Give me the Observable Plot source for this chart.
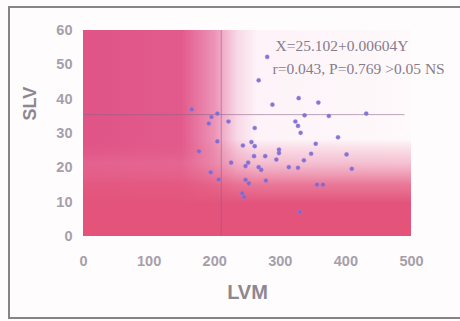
<!DOCTYPE html>
<html><head><meta charset="utf-8">
<script src="https://cdn.jsdelivr.net/npm/d3@7"></script>
<script src="https://cdn.jsdelivr.net/npm/@observablehq/plot@0.6"></script>
<style>
html,body{margin:0;padding:0;background:#fefcfc;}
#wrap{position:relative;width:460px;height:321px;overflow:hidden;}
#border{position:absolute;left:8px;top:6px;width:470px;height:313px;border:2px solid #858585;box-sizing:border-box;pointer-events:none;}
#chart{position:absolute;left:0;top:0;}
</style></head><body>
<div id="wrap"><div id="chart"></div><div id="border"></div></div>
<script>
// LVM (x) and SLV (y) values
const lvm = [280,267,288,165,204,195,191,221,261,328,358,337,374,431,323,327,331,388,354,347,336,327,313,401,409,356,365,330,204,176,243,256,261,298,298,277,260,294,225,251,247,267,271,194,206,247,252,278,242,245];
const slv = [52.3,45.5,38.4,37.0,35.8,34.8,32.9,33.5,31.6,40.3,39.0,35.3,35.1,35.8,33.5,32.2,30.2,28.9,27.0,24.1,22.2,20.0,20.2,23.9,19.7,15.1,15.1,7.1,27.7,24.8,26.5,27.5,26.3,25.3,24.3,23.4,23.4,22.4,21.5,21.5,20.5,20.2,19.4,18.7,16.6,16.5,15.5,16.3,12.6,11.5];
const xTicks = [0,100,200,300,400,500];
const yTicks = [0,10,20,30,40,50,60];
const xDomain = [0,500];
const yDomain = [0,60];
const meanLVM = [210];
const meanSLV = [35.5];
const hLineEnd = 490;
const eqLines = ["X=25.102+0.00604Y", "r=0.043, P=0.769 >0.05 NS"];
const xTitle = ["LVM"];
const yTitle = ["SLV"];

const pts = lvm.map((x,i)=>({x, y: slv[i]}));
const bg = [{x1:xDomain[0], x2:xDomain[1], y1:yDomain[0], y2:yDomain[1]}];

const plot = Plot.plot({
  width:460, height:321,
  marginLeft:83, marginRight:49, marginTop:30, marginBottom:85,
  style:{background:"transparent", fontFamily:"'Liberation Sans', Arial, sans-serif", fontSize:"14.5px", fontWeight:"bold", color:"#a69fab", overflow:"visible"},
  x:{domain:xDomain, ticks:xTicks, tickSize:0, tickPadding:19, label:null},
  y:{domain:yDomain, ticks:yTicks, tickSize:0, tickPadding:11, label:null},
  marks:[
    Plot.rect(bg,{x1:"x1",x2:"x2",y1:"y1",y2:"y2", fill:"url(#gH)"}),
    Plot.rect(bg,{x1:"x1",x2:"x2",y1:"y1",y2:"y2", fill:"url(#gV)"}),
    Plot.ruleY(meanSLV,{y:d=>d, x1:()=>xDomain[0], x2:()=>hLineEnd, stroke:"#8a5f8a", strokeOpacity:0.55, strokeWidth:1}),
    Plot.ruleX(meanLVM,{x:d=>d, y1:()=>yDomain[0], y2:()=>yDomain[1], stroke:"#8a5f8a", strokeOpacity:0.55, strokeWidth:1}),
    Plot.dot(pts,{x:"x", y:"y", r:2.1, fill:"#7a66d2", fillOpacity:0.9, stroke:"#9a88e0", strokeOpacity:0.35, strokeWidth:1}),
    Plot.text([eqLines[0]],{text:d=>d, frameAnchor:"top-right", textAnchor:"start", dx:-136, dy:9, fontFamily:"'Liberation Serif', 'Times New Roman', serif", fontSize:15.5, fontWeight:"normal", fill:"#877c8b"}),
    Plot.text([eqLines[1]],{text:d=>d, frameAnchor:"top-right", textAnchor:"start", dx:-139, dy:32, fontFamily:"'Liberation Serif', 'Times New Roman', serif", fontSize:15.5, fontWeight:"normal", fill:"#877c8b"}),
    Plot.text(xTitle,{text:d=>d, frameAnchor:"bottom", dy:62, fontSize:20, fontWeight:"bold", fill:"#8e8792", letterSpacing:"1px"}),
    Plot.text(yTitle,{text:d=>d, frameAnchor:"left", dx:-53, dy:-13, rotate:-90, fontSize:18, fontWeight:"bold", fill:"#8e8792"})
  ]
});

const ns = "http://www.w3.org/2000/svg";
const defs = document.createElementNS(ns,"defs");
function grad(id, x1,y1,x2,y2, stops){
  const g = document.createElementNS(ns,"linearGradient");
  g.setAttribute("id",id);
  g.setAttribute("x1",x1); g.setAttribute("y1",y1); g.setAttribute("x2",x2); g.setAttribute("y2",y2);
  for (const [o,c,op] of stops){
    const s = document.createElementNS(ns,"stop");
    s.setAttribute("offset",o); s.setAttribute("stop-color",c); s.setAttribute("stop-opacity",op);
    g.appendChild(s);
  }
  defs.appendChild(g);
}
grad("gH","0","0","1","0",[["0","#e05487",1],["0.3","#e25a8c",1],["0.4","#ec93b6",1],["0.47","#f8d8e6",1],["0.53","#fdf3f8",1],["1","#fef9fb",1]]);
grad("gV","0","0","0","1",[["0","#e4577f",0],["0.53","#e4577f",0],["0.64","#e8759a",0.4],["0.75","#e4587f",0.8],["0.84","#e3547c",1],["1","#e3537a",1]]);
plot.insertBefore(defs, plot.firstChild);
document.getElementById("chart").appendChild(plot);
</script>
</body></html>
